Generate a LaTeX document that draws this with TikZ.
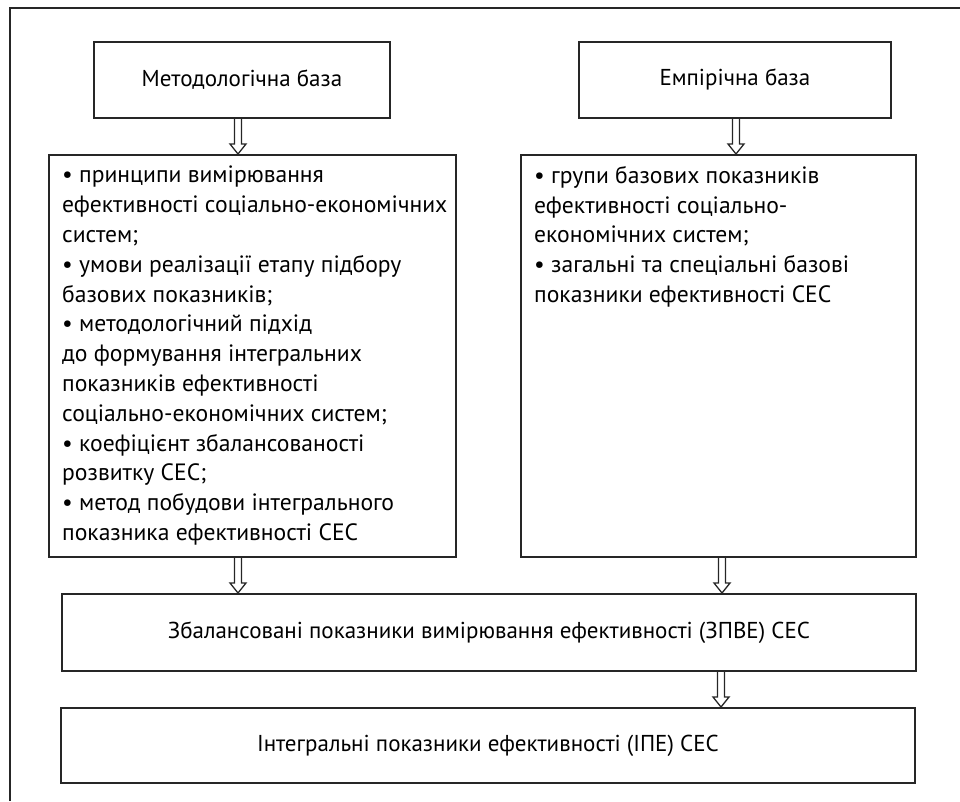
\documentclass[tikz,border=0pt]{standalone}
\usepackage{fontspec}
\setmainfont{PT Sans}
\usetikzlibrary{calc}
\tikzset{
  box/.style={draw=black!85, line width=1.8pt, inner sep=0pt, anchor=north west},
  txt/.style={inner sep=0pt, anchor=north west, align=left, font=\fontsize{23.6}{29.8}\selectfont},
  ctxt/.style={inner sep=0pt, font=\fontsize{23}{25}\selectfont},
  harrow/.style={draw=black!85, line width=1.3pt, line join=miter}
}
\newcommand\hollowarrow[3]{%
  \draw[harrow] ($(#2.south -| #1)+(-3.5,0)$) -- ($(#3.north -| #1)+(-3.5,-10)$)
    -- ++(-4.5,0) -- (#3.north -| #1) -- ($(#3.north -| #1)+(8,-10)$)
    -- ++(-4.5,0) -- ($(#2.south -| #1)+(3.5,0)$);}
\begin{document}
\begin{tikzpicture}[x=1pt,y=-1pt]
\useasboundingbox (0,0) rectangle (960,801);
% outer frame (clipped on right and bottom)
\draw[draw=black!85, line width=2pt] (10,801) -- (10,8) -- (960,8);
% boxes
\node[box, minimum width=296, minimum height=76] (mb) at (93,41) {};
\node[box, minimum width=312, minimum height=76] (eb) at (578,41) {};
\node[box, minimum width=407, minimum height=402] (ml) at (48,154) {};
\node[box, minimum width=395, minimum height=402] (el) at (520,154) {};
\node[box, minimum width=854, minimum height=77] (zp) at (61,593) {};
\node[box, minimum width=854, minimum height=75] (ip) at (60,707) {};
% texts
\node[ctxt] (mbt) at (mb.center) {Методологічна база};
\node[ctxt] (ebt) at (eb.center) {Емпірічна база};
\node[ctxt] (zpt) at (zp.center) {Збалансовані показники вимірювання ефективності (ЗПВЕ) СЕС};
\node[ctxt] (ipt) at (ip.center) {Інтегральні показники ефективності (ІПЕ) СЕС};
\node[txt] (mlt) at (62,166) {• принципи вимірювання\\
ефективності соціально-економічних\\
систем;\\
• умови реалізації етапу підбору\\
базових показників;\\
• методологічний підхід\\
до формування інтегральних\\
показників ефективності\\
соціально-економічних систем;\\
• коефіцієнт збалансованості\\
розвитку СЕС;\\
• метод побудови інтегрального\\
показника ефективності СЕС};
\node[txt] (elt) at (534,166) {• групи базових показників\\
ефективності соціально-\\
економічних систем;\\
• загальні та спеціальні базові\\
показники ефективності СЕС};
% arrow x positions
\coordinate (x1) at (238,0);
\coordinate (x2) at (736,0);
\coordinate (x3) at (238,0);
\coordinate (x4) at (722,0);
\coordinate (x5) at (721,0);
\hollowarrow{x1}{mb}{ml}
\hollowarrow{x2}{eb}{el}
\hollowarrow{x3}{ml}{zp}
\hollowarrow{x4}{el}{zp}
\hollowarrow{x5}{zp}{ip}
\end{tikzpicture}
\end{document}
